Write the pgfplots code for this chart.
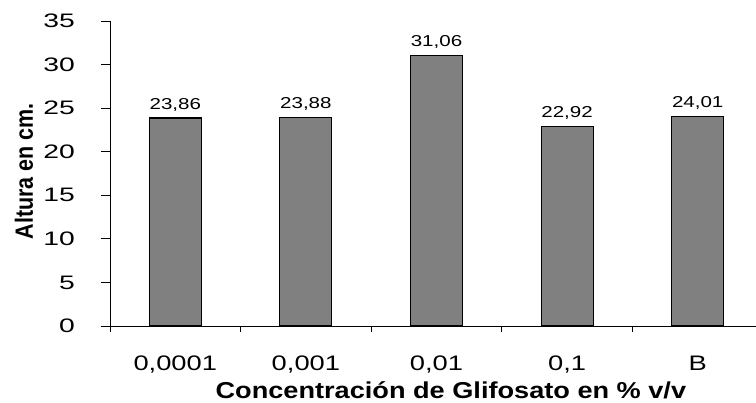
\documentclass[border=0pt]{standalone}
\usepackage{pgfplots}
\pgfplotsset{compat=1.18}
\usepackage{fontspec}
\setmainfont{Liberation Sans}
% wide Arial-like faces for the different text roles
\newfontfamily\ytickfont{Liberation Sans}[FakeStretch=1.45]
\newfontfamily\xtickfont{Liberation Sans}[FakeStretch=1.3]
\newfontfamily\valfont{Liberation Sans}[FakeStretch=1.3]
\newfontfamily\xlabfont{Liberation Sans}[FakeStretch=1.18]
\newfontfamily\ylabfont{Liberation Sans}[FakeStretch=0.86]
\definecolor{barfill}{RGB}{128,128,128}

% plant height (cm) per glyphosate concentration
\pgfplotstableread{
pos altura
0 23.86
1 23.88
2 31.06
3 22.92
4 24.01
}\alturas

\begin{document}
\begin{tikzpicture}
\begin{axis}[
  at={(0pt,0pt)}, anchor=south west,
  scale only axis,
  width=653pt, height=305pt,
  xmin=-0.5, xmax=4.5,
  ymin=0, ymax=35,
  axis x line=bottom, axis y line=left,
  axis line style={-, line width=0.9pt, black},
  tick style={line width=0.9pt, black},
  tick align=outside,
  major tick length=9pt,
  /pgf/number format/assume math mode=true,
  ytick={0,5,...,35},
  yticklabel style={font=\ytickfont\fontsize{19.5}{19.5}\selectfont, anchor=east, inner sep=0pt, xshift=-26pt},
  xtick={-0.5,0.5,1.5,2.5,3.5,4.5},
  xticklabels={{0,0001},{0,001},{0,01},{0,1},B,{}},
  xticklabel style={font=\xtickfont\fontsize{21}{21}\selectfont, anchor=base, inner sep=0pt, xshift=65.3pt, yshift=-36pt},
  xtick style={/pgfplots/major tick length=6pt},
  xlabel={Concentración de Glifosato en \% v/v},
  xlabel style={font=\xlabfont\bfseries\fontsize{23}{23}\selectfont, at={(axis description cs:0.522,-0.2385)}, anchor=base, inner sep=0pt},
  ylabel={Altura en cm.},
  ylabel style={font=\ylabfont\bfseries\fontsize{25}{25}\selectfont, at={(axis description cs:-0.1317,0.507)}, anchor=center, inner sep=0pt},
  nodes near coords={\pgfmathprintnumber[use comma,fixed,fixed zerofill,precision=2]{\pgfplotspointmeta}},
  nodes near coords style={font=\valfont\fontsize{15.8}{16}\selectfont, anchor=base, inner sep=0pt, yshift=9pt, black},
  clip=false,
]
\addplot[ybar, bar width=52pt, fill=barfill, draw=black, line width=1.2pt]
  table[x=pos, y=altura] {\alturas};
\end{axis}
\pgfresetboundingbox
\path[use as bounding box] (-110pt,-77pt) rectangle (646pt,326pt);
\end{tikzpicture}
\end{document}
